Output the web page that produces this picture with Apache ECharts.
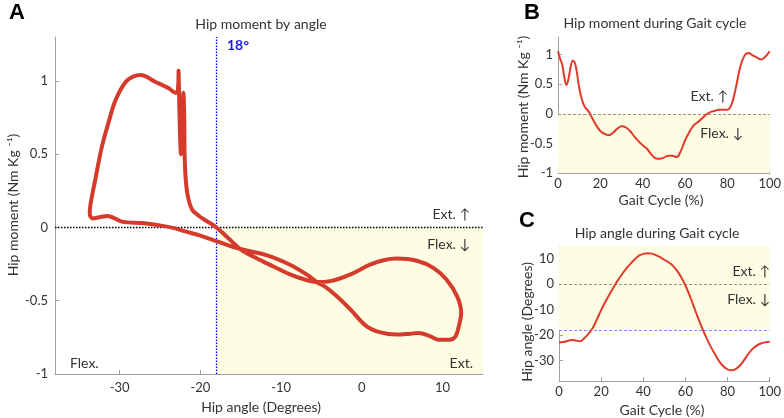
<!DOCTYPE html>
<html>
<head>
<meta charset="utf-8">
<script src="https://cdn.jsdelivr.net/npm/echarts@6/dist/echarts.min.js"></script>
<style>
html,body{margin:0;padding:0;background:#fff;}
#chart{width:784px;height:418px;}
</style>
</head>
<body>
<div id="chart"></div>
<script>
// ---- Panel A: hip moment vs hip angle (loop, traced in drawing order) ----
const hipAngleLoop = [-22.7,-22.6,-22.5,-22.4,-22.3,-22.15,-22.1,-22.0,-21.95,-21.8,-21.5,-21.0,-20.2,-19.4,-18.0,-16.5,-15.05,-13.4,-11.75,-8.9,-6.8,-5.6,-3.9,-1.4,1.0,2.8,4.3,6.8,8.9,10.5,11.8,12.3,12.0,11.6,10.9,9.5,8.5,7.0,6.0,4.3,2.3,0.6,-1.4,-3.1,-4.4,-5.6,-6.8,-8.9,-11.75,-15.05,-17.9,-20.0,-21.9,-23.1,-25.2,-27.2,-29.7,-31.5,-32.5,-33.3,-33.7,-33.6,-33.0,-32.2,-31.3,-30.5,-29.3,-28.3,-27.4,-25.6,-23.9,-23.1,-22.8,-22.7];
const hipMomentLoop = [1.07,0.82,0.6,0.5,0.65,0.85,0.92,0.75,0.5,0.32,0.2,0.12,0.08,0.05,0.0,-0.075,-0.147,-0.2,-0.245,-0.32,-0.36,-0.372,-0.366,-0.32,-0.254,-0.222,-0.212,-0.227,-0.277,-0.357,-0.47,-0.584,-0.675,-0.743,-0.766,-0.766,-0.743,-0.72,-0.725,-0.731,-0.716,-0.675,-0.561,-0.47,-0.41,-0.372,-0.322,-0.254,-0.19,-0.147,-0.095,-0.055,-0.027,-0.006,0.016,0.03,0.04,0.078,0.07,0.062,0.09,0.16,0.33,0.55,0.73,0.87,0.99,1.03,1.04,0.995,0.95,0.92,0.93,1.07];

// ---- Panel B: hip moment during gait cycle ----
const gaitPctMoment = [0,1,2,3,4,5,6,7,8,9,10,11,12,13,14,15,16,18,20,22,24,26,28,30,32,34,36,38,40,42,44,46,48,50,52,54,56,58,60,62,64,66,68,70,72,74,76,78,80,82,84,86,88,90,92,94,96,98,100];
const hipMomentGait = [1.06,0.93,0.83,0.62,0.49,0.6,0.8,0.9,0.86,0.68,0.45,0.28,0.17,0.1,0.06,0.01,-0.06,-0.19,-0.29,-0.34,-0.36,-0.32,-0.25,-0.21,-0.23,-0.29,-0.38,-0.46,-0.53,-0.59,-0.68,-0.75,-0.76,-0.74,-0.71,-0.71,-0.73,-0.63,-0.45,-0.31,-0.2,-0.14,-0.08,-0.01,0.03,0.05,0.07,0.07,0.07,0.16,0.44,0.78,0.98,1.03,0.99,0.95,0.92,0.97,1.06];

// ---- Panel C: hip angle during gait cycle ----
const gaitPctAngle = [0,2,4,6,8,10,12,14,16,18,20,22,24,26,28,30,32,34,36,38,40,42,44,46,48,50,52,54,56,58,60,62,64,66,68,70,72,74,76,78,80,82,84,86,88,90,92,94,96,98,100];
const hipAngleGait = [-22.8,-22.7,-22.3,-21.9,-22.1,-22.4,-21.2,-19.4,-17.2,-13.8,-10.2,-6.9,-3.9,-1.1,1.6,4.0,6.2,8.1,9.8,11.2,11.9,12.2,12.0,11.4,10.6,9.6,8.6,7.3,5.3,2.7,-0.5,-4.4,-8.8,-13.2,-17.3,-21.1,-24.5,-27.4,-30.2,-32.2,-33.4,-33.8,-33.2,-31.8,-29.6,-27.2,-25.3,-24.0,-23.2,-22.8,-22.6];

// ---- ticks & reference values ----
const momentTicks = [-1,-0.5,0,0.5,1];
const angleTicks = [-30,-20,-10,0,10];
const gaitTicks = [0,20,40,60,80,100];
const thresholdAngle = -18;

const FONT = 'Lato, "Open Sans", sans-serif';
const TXT = '#333333';
const AXC = '#a0a0a0';
const YELLOW = '#fdfde3';

function axis(gi, min, max, ticks, margin) {
  return {
    gridIndex: gi, type: 'value', min: min, max: max,
    axisLine: {show: true, onZero: false, lineStyle: {color: AXC, width: 1}},
    axisTick: {show: true, inside: true, length: 4, customValues: ticks, lineStyle: {color: AXC}},
    axisLabel: {show: true, customValues: ticks, color: TXT, fontSize: 13, fontFamily: FONT, margin: margin},
    splitLine: {show: false}
  };
}

const loopData = hipAngleLoop.map((a, i) => [a, hipMomentLoop[i]]);
const momentData = gaitPctMoment.map((p, i) => [p, hipMomentGait[i]]);
const angleData = gaitPctAngle.map((p, i) => [p, hipAngleGait[i]]);

function txt(x, y, text, opts) {
  const el = {type: 'text', x: x, y: y, z: 100, zlevel: 0, silent: true,
    style: Object.assign({text: text, fill: TXT, font: '14px ' + FONT, textAlign: 'center', textVerticalAlign: 'middle'}, (opts && opts.style) || {})};
  if (opts && opts.rotation !== undefined) el.rotation = opts.rotation;
  return el;
}

const chart = echarts.init(document.getElementById('chart'), null, {renderer: 'canvas'});
chart.setOption({
  animation: false,
  backgroundColor: '#ffffff',
  grid: [
    {left: 55, right: 301, top: 37, bottom: 44},
    {left: 558, right: 10, top: 37, bottom: 245},
    {left: 559, right: 10, top: 246, bottom: 37}
  ],
  xAxis: [
    axis(0, -38, 15, angleTicks, 7),
    axis(1, 0, 100, gaitTicks, 4),
    axis(2, 0, 100, gaitTicks, 4)
  ],
  yAxis: [
    axis(0, -1, 1.3, momentTicks, 7),
    axis(1, -1, 1.3, momentTicks, 5),
    axis(2, -38, 15, angleTicks, 5)
  ],
  series: [
    {type: 'line', xAxisIndex: 0, yAxisIndex: 0, data: [], z: 1,
      markArea: {silent: true, itemStyle: {color: YELLOW}, data: [[{xAxis: thresholdAngle, yAxis: -1}, {xAxis: 15, yAxis: 0}]]}},
    {type: 'line', xAxisIndex: 0, yAxisIndex: 0, data: [], z: 2,
      markLine: {silent: true, symbol: 'none', label: {show: false},
        data: [
          {yAxis: 0, lineStyle: {color: '#000000', type: [1.5, 1.5], width: 1.3}},
          {xAxis: thresholdAngle, lineStyle: {color: '#0000ff', type: [1.5, 1.5], width: 1.3}}
        ]}},
    {type: 'line', xAxisIndex: 0, yAxisIndex: 0, data: loopData, z: 5,
      showSymbol: false, smooth: 0.35,
      lineStyle: {color: '#d43b2d', width: 4, cap: 'round', join: 'round'}},

    {type: 'line', xAxisIndex: 1, yAxisIndex: 1, data: [], z: 1,
      markArea: {silent: true, itemStyle: {color: YELLOW}, data: [[{xAxis: 0, yAxis: -1}, {xAxis: 100, yAxis: 0}]]},
      markLine: {silent: true, symbol: 'none', label: {show: false},
        data: [{yAxis: 0, lineStyle: {color: '#7a7a6a', type: [3, 2], width: 0.8}}]}},
    {type: 'line', xAxisIndex: 1, yAxisIndex: 1, data: momentData, z: 5,
      showSymbol: false, smooth: 0.4,
      lineStyle: {color: '#e23a2a', width: 2}},

    {type: 'line', xAxisIndex: 2, yAxisIndex: 2, data: [], z: 1,
      markArea: {silent: true, itemStyle: {color: YELLOW}, data: [[{xAxis: 0, yAxis: thresholdAngle}, {xAxis: 100, yAxis: 15}]]},
      markLine: {silent: true, symbol: 'none', label: {show: false},
        data: [
          {yAxis: 0, lineStyle: {color: '#7a7a6a', type: [3, 2], width: 0.8}},
          {yAxis: thresholdAngle, lineStyle: {color: '#6b6bff', type: [3, 2], width: 0.8}}
        ]}},
    {type: 'line', xAxisIndex: 2, yAxisIndex: 2, data: angleData, z: 5,
      showSymbol: false, smooth: 0.4,
      lineStyle: {color: '#e23a2a', width: 2}}
  ],
  graphic: {
    elements: [
      // panel letters
      txt(17, 13, 'A', {style: {font: 'bold 22px "Liberation Sans", Arial, sans-serif', fill: '#000'}}),
      txt(532, 13, 'B', {style: {font: 'bold 22px "Liberation Sans", Arial, sans-serif', fill: '#000'}}),
      txt(527, 221, 'C', {style: {font: 'bold 22px "Liberation Sans", Arial, sans-serif', fill: '#000'}}),
      // titles
      txt(261, 24, 'Hip moment by angle'),
      txt(655, 23, 'Hip moment during Gait cycle'),
      txt(657, 233, 'Hip angle during Gait cycle'),
      // axis names
      txt(261, 407, 'Hip angle (Degrees)'),
      txt(13, 205, 'Hip moment (Nm Kg \u207B\u00B9)', {rotation: Math.PI / 2}),
      txt(661, 200, 'Gait Cycle (%)'),
      txt(523, 107, 'Hip moment (Nm Kg \u207B\u00B9)', {rotation: Math.PI / 2}),
      txt(662, 410, 'Gait Cycle (%)'),
      txt(527, 322, 'Hip angle (Degrees)', {rotation: Math.PI / 2}),
      // annotations panel A
      txt(238, 45, '18°', {style: {font: 'bold 14px ' + FONT, fill: '#1a1aee'}}),
      txt(470, 214, 'Ext. \u2191', {style: {textAlign: 'right'}}),
      txt(470, 244, 'Flex. \u2193', {style: {textAlign: 'right'}}),
      txt(70, 363, 'Flex.', {style: {textAlign: 'left'}}),
      txt(473, 363, 'Ext.', {style: {textAlign: 'right'}}),
      // annotations panel B
      txt(728, 96, 'Ext. \u2191', {style: {textAlign: 'right'}}),
      txt(743, 133, 'Flex. \u2193', {style: {textAlign: 'right'}}),
      // annotations panel C
      txt(770, 271, 'Ext. \u2191', {style: {textAlign: 'right'}}),
      txt(770, 299, 'Flex. \u2193', {style: {textAlign: 'right'}})
    ]
  }
});
</script>
</body>
</html>
